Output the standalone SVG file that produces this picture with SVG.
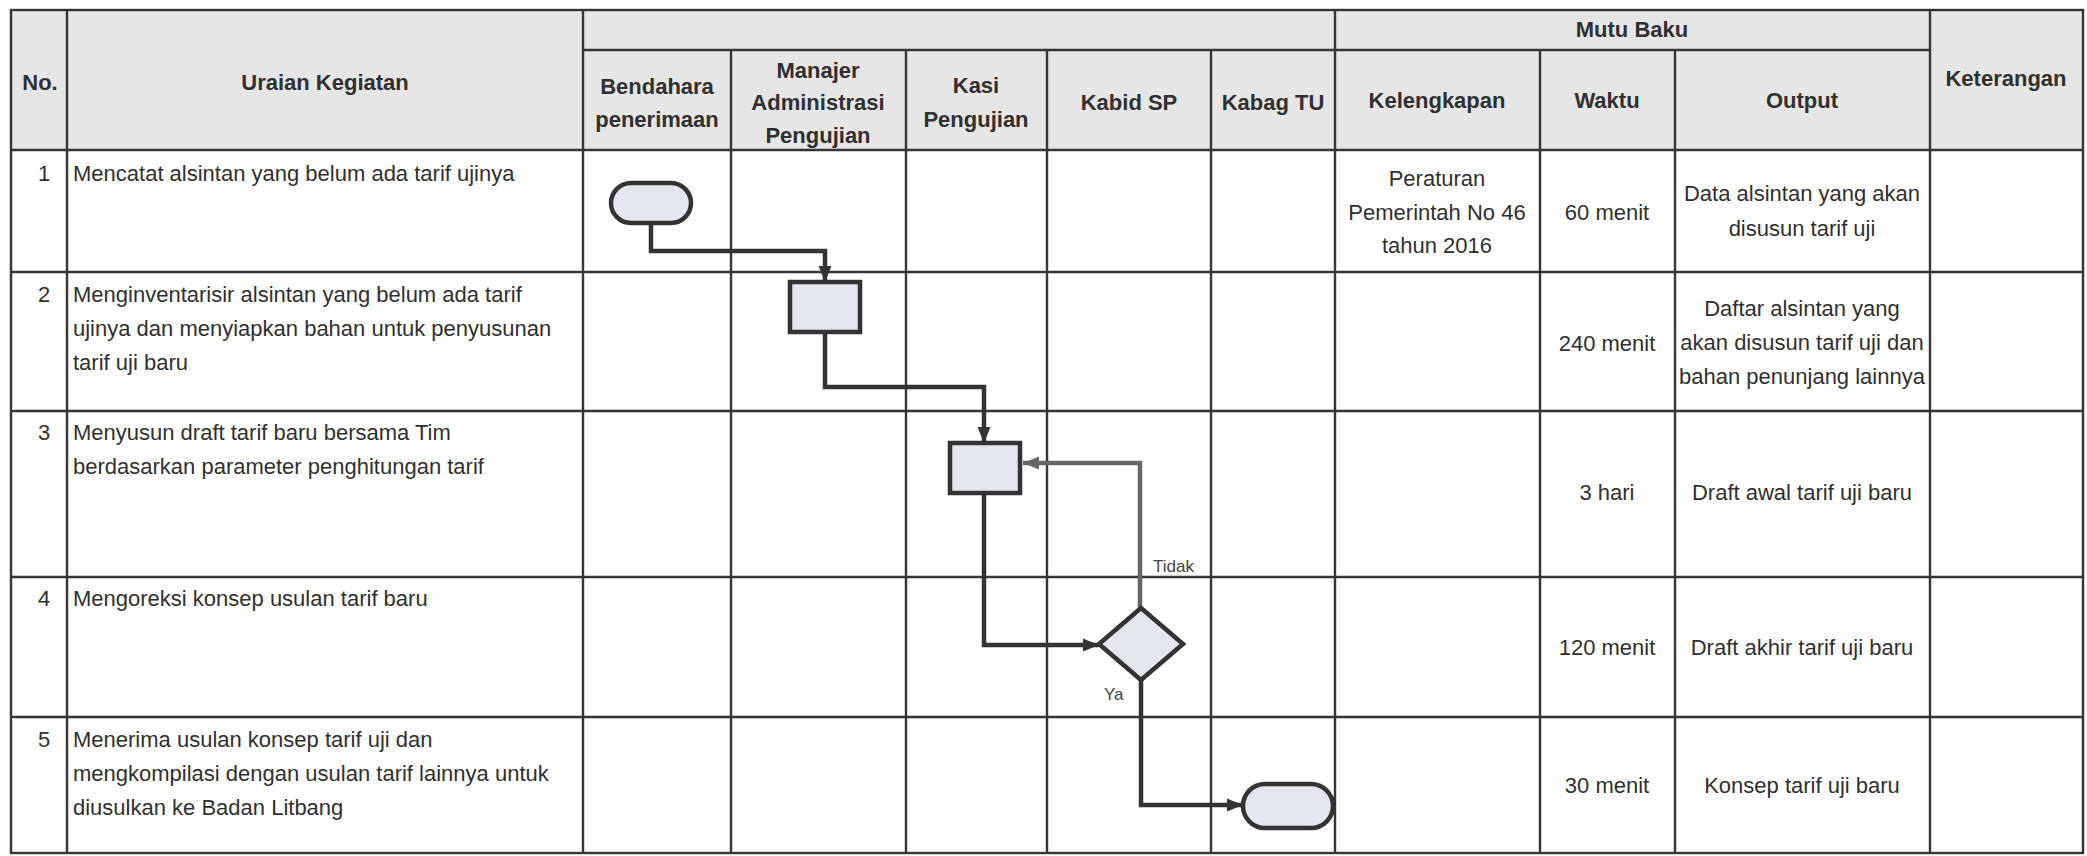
<svg xmlns="http://www.w3.org/2000/svg" width="2087" height="856" viewBox="0 0 2087 856">
<style>
  .grid { stroke:#353535; stroke-width:2.4; fill:none; }
  .hdr { fill:#e6e6e6; }
  .t { font-family:"Liberation Sans", Arial, sans-serif; font-size:22px; fill:#303030; }
  .b { font-weight:bold; text-anchor:middle; }
  .c { text-anchor:middle; }
  .n { text-anchor:middle; }
  .lbl { font-family:"Liberation Sans", Arial, sans-serif; font-size:17px; fill:#444; }
  .shape { fill:#e6e6ee; stroke:#333; stroke-width:4.5; }
  .conn { fill:none; stroke:#333; stroke-width:4.5; stroke-linejoin:miter; }
  .back { fill:none; stroke:#666; stroke-width:4.5; }
</style>
<defs>
  <marker id="arr" markerUnits="userSpaceOnUse" markerWidth="18" markerHeight="18" viewBox="0 0 18 18" refX="16" refY="9" orient="auto">
    <path d="M0,2.5 L16,9 L0,15.5 Z" fill="#333"/>
  </marker>
  <marker id="arrg" markerUnits="userSpaceOnUse" markerWidth="18" markerHeight="18" viewBox="0 0 18 18" refX="16" refY="9" orient="auto">
    <path d="M0,2.5 L16,9 L0,15.5 Z" fill="#666"/>
  </marker>
</defs>
<rect x="0" y="0" width="2087" height="856" fill="#ffffff"/>
<g id="table">
  <rect class="hdr" x="11" y="10" width="2072" height="140"/>
  <rect class="grid" x="11" y="10" width="2072" height="843"/>
  <line class="grid" x1="583" y1="50" x2="1930" y2="50"/>
  <line class="grid" x1="11" y1="150" x2="2083" y2="150"/>
  <line class="grid" x1="11" y1="272" x2="2083" y2="272"/>
  <line class="grid" x1="11" y1="411" x2="2083" y2="411"/>
  <line class="grid" x1="11" y1="577" x2="2083" y2="577"/>
  <line class="grid" x1="11" y1="717" x2="2083" y2="717"/>
  <line class="grid" x1="67" y1="10" x2="67" y2="853"/>
  <line class="grid" x1="583" y1="10" x2="583" y2="853"/>
  <line class="grid" x1="731" y1="50" x2="731" y2="853"/>
  <line class="grid" x1="906" y1="50" x2="906" y2="853"/>
  <line class="grid" x1="1047" y1="50" x2="1047" y2="853"/>
  <line class="grid" x1="1211" y1="50" x2="1211" y2="853"/>
  <line class="grid" x1="1335" y1="10" x2="1335" y2="853"/>
  <line class="grid" x1="1540" y1="50" x2="1540" y2="853"/>
  <line class="grid" x1="1675" y1="50" x2="1675" y2="853"/>
  <line class="grid" x1="1930" y1="10" x2="1930" y2="853"/>
</g>
<g id="headers" class="t">
  <text class="t b" x="40" y="90">No.</text>
  <text class="t b" x="325" y="90">Uraian Kegiatan</text>
  <text class="t b" x="657" y="94">Bendahara</text>
  <text class="t b" x="657" y="127">penerimaan</text>
  <text class="t b" x="818" y="78">Manajer</text>
  <text class="t b" x="818" y="110">Administrasi</text>
  <text class="t b" x="818" y="143">Pengujian</text>
  <text class="t b" x="976" y="93">Kasi</text>
  <text class="t b" x="976" y="127">Pengujian</text>
  <text class="t b" x="1129" y="110">Kabid SP</text>
  <text class="t b" x="1273" y="110">Kabag TU</text>
  <text class="t b" x="1632" y="37">Mutu Baku</text>
  <text class="t b" x="1437" y="108">Kelengkapan</text>
  <text class="t b" x="1607" y="108">Waktu</text>
  <text class="t b" x="1802" y="108">Output</text>
  <text class="t b" x="2006" y="86">Keterangan</text>
</g>
<g id="row-texts">
  <text class="t n" x="44" y="181">1</text>
  <text class="t" x="73" y="181">Mencatat alsintan yang belum ada tarif ujinya</text>
  <text class="t c" x="1437" y="186">Peraturan</text>
  <text class="t c" x="1437" y="220">Pemerintah No 46</text>
  <text class="t c" x="1437" y="253">tahun 2016</text>
  <text class="t c" x="1607" y="220">60 menit</text>
  <text class="t c" x="1802" y="201">Data alsintan yang akan</text>
  <text class="t c" x="1802" y="236">disusun tarif uji</text>

  <text class="t n" x="44" y="302">2</text>
  <text class="t" x="73" y="302">Menginventarisir alsintan yang belum ada tarif</text>
  <text class="t" x="73" y="336">ujinya dan menyiapkan bahan untuk penyusunan</text>
  <text class="t" x="73" y="370">tarif uji baru</text>
  <text class="t c" x="1607" y="351">240 menit</text>
  <text class="t c" x="1802" y="316">Daftar alsintan yang</text>
  <text class="t c" x="1802" y="350">akan disusun tarif uji dan</text>
  <text class="t c" x="1802" y="384">bahan penunjang lainnya</text>

  <text class="t n" x="44" y="440">3</text>
  <text class="t" x="73" y="440">Menyusun draft tarif baru bersama Tim</text>
  <text class="t" x="73" y="474">berdasarkan parameter penghitungan tarif</text>
  <text class="t c" x="1607" y="500">3 hari</text>
  <text class="t c" x="1802" y="500">Draft awal tarif uji baru</text>

  <text class="t n" x="44" y="606">4</text>
  <text class="t" x="73" y="606">Mengoreksi konsep usulan tarif baru</text>
  <text class="t c" x="1607" y="655">120 menit</text>
  <text class="t c" x="1802" y="655">Draft akhir tarif uji baru</text>

  <text class="t n" x="44" y="747">5</text>
  <text class="t" x="73" y="747">Menerima usulan konsep tarif uji dan</text>
  <text class="t" x="73" y="781">mengkompilasi dengan usulan tarif lainnya untuk</text>
  <text class="t" x="73" y="815">diusulkan ke Badan Litbang</text>
  <text class="t c" x="1607" y="793">30 menit</text>
  <text class="t c" x="1802" y="793">Konsep tarif uji baru</text>
</g>
<g id="connectors">
  <path class="conn" d="M651,223 V251 H825 V282" marker-end="url(#arr)"/>
  <path class="conn" d="M825,332 V387 H984 V443" marker-end="url(#arr)"/>
  <path class="conn" d="M984,493 V645 H1099" marker-end="url(#arr)"/>
  <path class="back" d="M1140,608 V463 H1023" marker-end="url(#arrg)"/>
  <path class="conn" d="M1141,680 V805 H1243" marker-end="url(#arr)"/>
  <text class="lbl" x="1153" y="572">Tidak</text>
  <text class="lbl" x="1104" y="700">Ya</text>
</g>
<g id="start">
  <rect class="shape" x="611" y="183" width="80" height="40" rx="20"/>
</g>
<g id="step2">
  <rect class="shape" x="790" y="282" width="70" height="50"/>
</g>
<g id="step3">
  <rect class="shape" x="950" y="443" width="70" height="50"/>
</g>
<g id="decision">
  <polygon class="shape" points="1141,608 1183,644 1141,680 1099,644"/>
</g>
<g id="end">
  <rect class="shape" x="1243" y="784" width="90" height="44" rx="22"/>
</g>
</svg>
